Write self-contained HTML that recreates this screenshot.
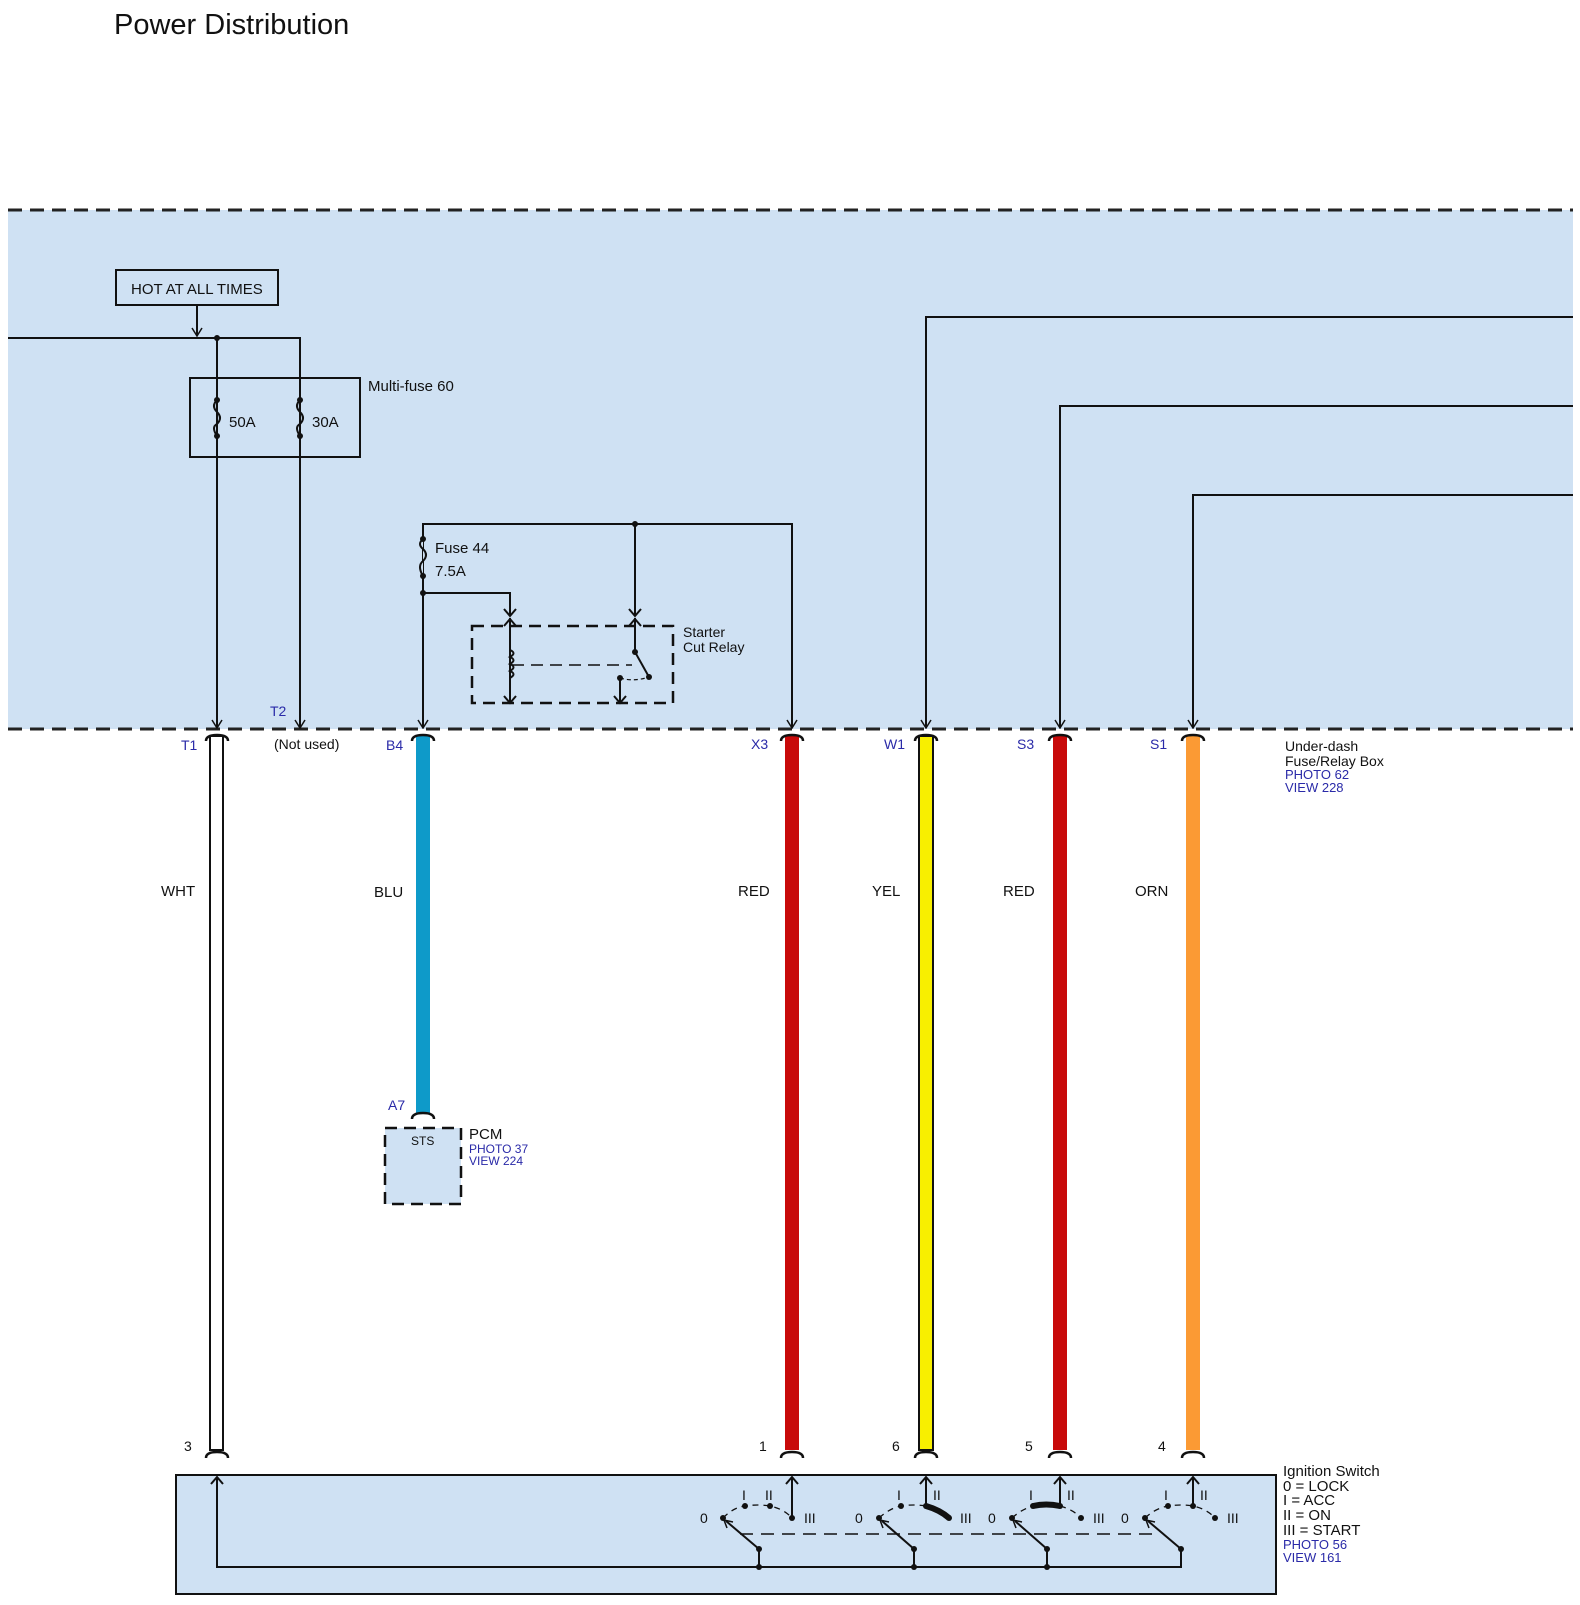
<!DOCTYPE html>
<html><head><meta charset="utf-8"><style>
html,body{margin:0;padding:0;background:#fff;}
svg{display:block;font-family:"Liberation Sans",Arial,sans-serif;}
.b{fill:#2a2aa8;}
</style></head><body>
<svg width="1580" height="1605" viewBox="0 0 1580 1605" xmlns="http://www.w3.org/2000/svg">
<defs>
<marker id="ar" markerWidth="12" markerHeight="12" refX="6" refY="11" orient="0" markerUnits="userSpaceOnUse">
<path d="M1,3 L6,11 L11,3" fill="none" stroke="#111" stroke-width="1.5"/>
</marker>
</defs>
<text x="114" y="34" font-size="29" fill="#111">Power Distribution</text>

<rect x="8" y="210" width="1565" height="519" fill="#cfe1f3"/>
<line x1="8" y1="210" x2="1573" y2="210" stroke="#222" stroke-width="3" stroke-dasharray="14,8"/>
<line x1="8" y1="729" x2="1573" y2="729" stroke="#222" stroke-width="3" stroke-dasharray="14,8"/>

<g stroke="#111" stroke-width="2" fill="none">
<rect x="116" y="270" width="162" height="35" fill="#cfe1f3"/>
<line x1="197" y1="305" x2="197" y2="336" marker-end="url(#ar)"/>
<polyline points="8,338 300,338 300,728" marker-end="url(#ar)"/>
<line x1="217" y1="338" x2="217" y2="728" marker-end="url(#ar)"/>
<rect x="190" y="378" width="170" height="79"/>
<path d="M217,400 q-6,6 0,12 q6,6 0,12 q-6,3 0,12"/>
<path d="M300,400 q-6,6 0,12 q6,6 0,12 q-6,3 0,12"/>
<polyline points="423,728 423,524 792,524 792,728" marker-end="url(#ar)"/>
<line x1="423" y1="700" x2="423" y2="728" marker-end="url(#ar)"/>
<path d="M423,539 q-6,5 0,10 q6,6 0,12 q-6,5 0,15" fill="#cfe1f3"/>
<polyline points="423,593 510,593 510,616"/>
<path d="M504,609 L510,616 L516,609"/>
<line x1="635" y1="524" x2="635" y2="616"/>
<path d="M629,609 L635,616 L641,609"/>
<rect x="472" y="626" width="201" height="77" stroke-dasharray="12,7" stroke-width="2.5"/>
<line x1="510" y1="618" x2="510" y2="703"/>
<path d="M504,626 L510,619 L516,626"/>
<path d="M504,696 L510,703 L516,696"/>
<path d="M510,650 q7,3 0,7 q7,3 0,7 q7,3 0,7 q7,3 0,7"/>
<line x1="512" y1="665" x2="632" y2="665" stroke-dasharray="12,7" stroke-width="1.5"/>
<line x1="635" y1="618" x2="635" y2="652"/>
<path d="M629,626 L635,619 L641,626"/>
<line x1="635" y1="652" x2="649" y2="677"/>
<path d="M620,678 q14,4 29,-1" stroke-dasharray="4,3" stroke-width="1.2"/>
<line x1="620" y1="678" x2="620" y2="703"/>
<path d="M614,696 L620,703 L626,696"/>
<polyline points="1573,317 926,317 926,728" marker-end="url(#ar)"/>
<polyline points="1573,406 1060,406 1060,728" marker-end="url(#ar)"/>
<polyline points="1573,495 1193,495 1193,728" marker-end="url(#ar)"/>
</g>
<g fill="#111">
<circle cx="217" cy="338" r="3"/>
<circle cx="217" cy="400" r="3"/><circle cx="217" cy="436" r="3"/>
<circle cx="300" cy="400" r="3"/><circle cx="300" cy="436" r="3"/>
<circle cx="423" cy="539" r="3"/><circle cx="423" cy="576" r="3"/><circle cx="423" cy="593" r="3"/>
<circle cx="635" cy="524" r="3"/><circle cx="635" cy="652" r="3"/><circle cx="649" cy="677" r="3"/><circle cx="620" cy="678" r="3"/>
</g>
<g font-size="15" fill="#111">
<text x="131" y="294">HOT AT ALL TIMES</text>
<text x="368" y="391">Multi-fuse 60</text>
<text x="229" y="427">50A</text>
<text x="312" y="427">30A</text>
<text x="435" y="553">Fuse 44</text>
<text x="435" y="576">7.5A</text>
<text x="683" y="637" font-size="14">Starter</text>
<text x="683" y="652" font-size="14">Cut Relay</text>
<text x="274" y="749" font-size="14">(Not used)</text>
<text x="1285" y="751" font-size="14">Under-dash</text>
<text x="1285" y="766" font-size="14">Fuse/Relay Box</text>
</g>
<g font-size="13" class="b">
<text x="1285" y="779">PHOTO 62</text>
<text x="1285" y="792">VIEW 228</text>
</g>
<g font-size="14" class="b">
<text x="270" y="716">T2</text>
<text x="181" y="750">T1</text>
<text x="386" y="750">B4</text>
<text x="751" y="749">X3</text>
<text x="884" y="749">W1</text>
<text x="1017" y="749">S3</text>
<text x="1150" y="749">S1</text>
<text x="388" y="1110">A7</text>
</g>

<rect x="210" y="736" width="13" height="714" fill="#fff" stroke="#111" stroke-width="2"/>
<rect x="416" y="736" width="14" height="377" fill="#0e9ac9"/>
<rect x="785" y="736" width="14" height="714" fill="#c80a0a"/>
<rect x="919" y="736" width="14" height="714" fill="#f8ef00" stroke="#111" stroke-width="2"/>
<rect x="1053" y="736" width="14" height="714" fill="#c80a0a"/>
<rect x="1186" y="736" width="14" height="714" fill="#fb9a34"/>
<g stroke="#111" stroke-width="2.5" fill="none">
<path d="M206,741 q0,-6 11,-6 q11,0 11,6"/>
<path d="M412,741 q0,-6 11,-6 q11,0 11,6"/>
<path d="M781,741 q0,-6 11,-6 q11,0 11,6"/>
<path d="M915,741 q0,-6 11,-6 q11,0 11,6"/>
<path d="M1049,741 q0,-6 11,-6 q11,0 11,6"/>
<path d="M1182,741 q0,-6 11,-6 q11,0 11,6"/>
<path d="M412,1119 q0,-6 11,-6 q11,0 11,6"/>
<path d="M206,1458 q0,-6 11,-6 q11,0 11,6"/>
<path d="M781,1458 q0,-6 11,-6 q11,0 11,6"/>
<path d="M915,1458 q0,-6 11,-6 q11,0 11,6"/>
<path d="M1049,1458 q0,-6 11,-6 q11,0 11,6"/>
<path d="M1182,1458 q0,-6 11,-6 q11,0 11,6"/>
</g>
<g font-size="15" fill="#111">
<text x="161" y="896">WHT</text>
<text x="374" y="897">BLU</text>
<text x="738" y="896">RED</text>
<text x="872" y="896">YEL</text>
<text x="1003" y="896">RED</text>
<text x="1135" y="896">ORN</text>
<text x="184" y="1451" font-size="14">3</text>
<text x="759" y="1451" font-size="14">1</text>
<text x="892" y="1451" font-size="14">6</text>
<text x="1025" y="1451" font-size="14">5</text>
<text x="1158" y="1451" font-size="14">4</text>
</g>

<rect x="385" y="1128" width="76" height="76" fill="#cfe1f3" stroke="#111" stroke-width="2.5" stroke-dasharray="12,7"/>
<text x="411" y="1145" font-size="12" fill="#111">STS</text>
<text x="469" y="1139" font-size="15" fill="#111">PCM</text>
<text x="469" y="1153" font-size="12" class="b">PHOTO 37</text>
<text x="469" y="1165" font-size="12" class="b">VIEW 224</text>

<g transform="translate(0,9)">
<rect x="176" y="1466" width="1100" height="119" fill="#cfe1f3" stroke="#111" stroke-width="2"/>
<g stroke="#111" stroke-width="2" fill="none">
<polyline points="217,1468 217,1558 1181,1558 1181,1540"/>
<path d="M211,1475 L217,1468 L223,1475"/>
<line x1="759" y1="1540" x2="759" y2="1558"/>
<line x1="914" y1="1540" x2="914" y2="1558"/>
<line x1="1047" y1="1540" x2="1047" y2="1558"/>
<line x1="740" y1="1525" x2="1160" y2="1525" stroke-dasharray="13,8" stroke-width="1.5"/>
<line x1="792" y1="1468" x2="792" y2="1509"/><path d="M786,1475 L792,1468 L798,1475"/>
<path d="M723,1509 Q734,1498 745,1497 Q758,1495 770,1497 Q784,1500 792,1509" stroke-dasharray="6,5" stroke-width="1.3"/>
<line x1="759" y1="1540" x2="726" y2="1512"/><path d="M727,1519 L724,1511 L733,1513" stroke-width="1.5"/>
<line x1="926" y1="1468" x2="926" y2="1497"/><path d="M920,1475 L926,1468 L932,1475"/>
<path d="M879,1509 Q890,1499 901,1497 Q914,1495 926,1497" stroke-dasharray="6,5" stroke-width="1.3"/>
<path d="M926,1497 Q940,1501 949,1509" stroke-width="6"/>
<line x1="914" y1="1540" x2="882" y2="1512"/><path d="M883,1519 L880,1511 L889,1513" stroke-width="1.5"/>
<line x1="1060" y1="1468" x2="1060" y2="1497"/><path d="M1054,1475 L1060,1468 L1066,1475"/>
<path d="M1012,1509 Q1022,1500 1033,1497" stroke-dasharray="6,5" stroke-width="1.3"/>
<path d="M1033,1497 Q1046,1494 1060,1497" stroke-width="6"/>
<path d="M1060,1497 Q1074,1501 1081,1509" stroke-dasharray="6,5" stroke-width="1.3"/>
<line x1="1047" y1="1540" x2="1015" y2="1512"/><path d="M1016,1519 L1013,1511 L1022,1513" stroke-width="1.5"/>
<line x1="1193" y1="1468" x2="1193" y2="1497"/><path d="M1187,1475 L1193,1468 L1199,1475"/>
<path d="M1145,1509 Q1156,1499 1168,1497 Q1181,1495 1193,1497 Q1207,1500 1215,1509" stroke-dasharray="6,5" stroke-width="1.3"/>
<line x1="1181" y1="1540" x2="1148" y2="1512"/><path d="M1149,1519 L1146,1511 L1155,1513" stroke-width="1.5"/>
</g>
<g fill="#111">
<circle cx="759" cy="1540" r="3"/><circle cx="914" cy="1540" r="3"/><circle cx="1047" cy="1540" r="3"/><circle cx="1181" cy="1540" r="3"/>
<circle cx="759" cy="1558" r="3"/><circle cx="914" cy="1558" r="3"/><circle cx="1047" cy="1558" r="3"/>
<circle cx="723" cy="1509" r="3"/><circle cx="745" cy="1497" r="3"/><circle cx="770" cy="1497" r="3"/><circle cx="792" cy="1509" r="3"/>
<circle cx="879" cy="1509" r="3"/><circle cx="901" cy="1497" r="3"/><circle cx="926" cy="1497" r="3"/><circle cx="949" cy="1509" r="3"/>
<circle cx="1012" cy="1509" r="3"/><circle cx="1033" cy="1497" r="3"/><circle cx="1060" cy="1497" r="3"/><circle cx="1081" cy="1509" r="3"/>
<circle cx="1145" cy="1509" r="3"/><circle cx="1168" cy="1497" r="3"/><circle cx="1193" cy="1497" r="3"/><circle cx="1215" cy="1509" r="3"/>
</g>
<g font-size="14" fill="#111">
<text x="700" y="1514">0</text><text x="742" y="1491">I</text><text x="765" y="1491">II</text><text x="804" y="1514">III</text>
<text x="855" y="1514">0</text><text x="897" y="1491">I</text><text x="933" y="1491">II</text><text x="960" y="1514">III</text>
<text x="988" y="1514">0</text><text x="1029" y="1491">I</text><text x="1067" y="1491">II</text><text x="1093" y="1514">III</text>
<text x="1121" y="1514">0</text><text x="1164" y="1491">I</text><text x="1200" y="1491">II</text><text x="1227" y="1514">III</text>
</g>
<g font-size="15" fill="#111">
<text x="1283" y="1467">Ignition Switch</text>
<text x="1283" y="1482">0 = LOCK</text>
<text x="1283" y="1496">I = ACC</text>
<text x="1283" y="1511">II = ON</text>
<text x="1283" y="1526">III = START</text>
</g>
<text x="1283" y="1540" font-size="13" class="b">PHOTO 56</text>
<text x="1283" y="1553" font-size="13" class="b">VIEW 161</text>
</g>
</svg>
</body></html>
